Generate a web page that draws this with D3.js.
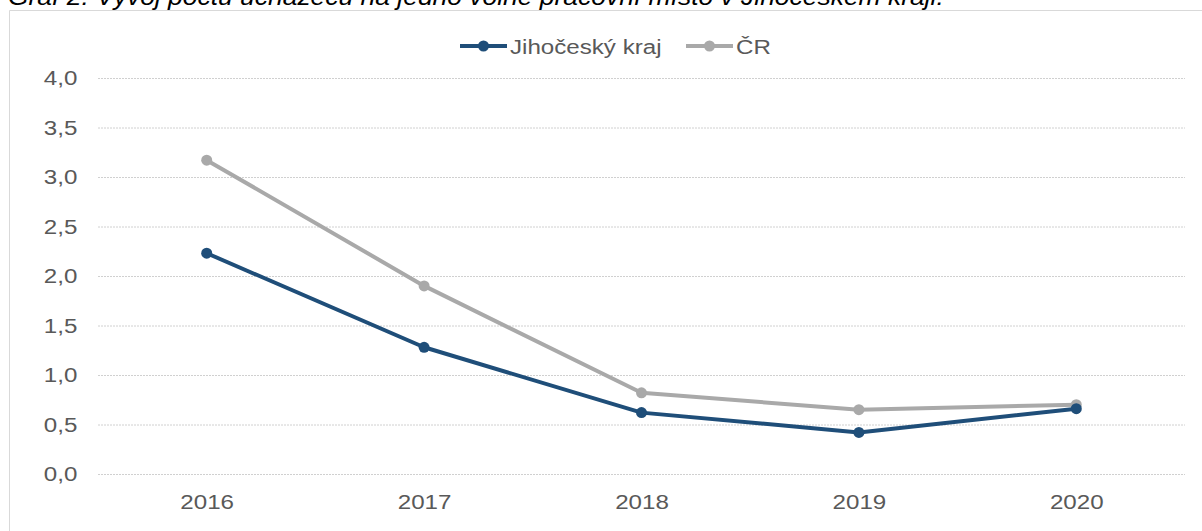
<!DOCTYPE html>
<html>
<head>
<meta charset="utf-8">
<script src="https://cdn.jsdelivr.net/npm/d3@7"></script>
<style>
  body { margin: 0; background: #fff; }
  svg { display: block; font-family: "Liberation Sans", Arial, sans-serif; }
</style>
</head>
<body>
<div class="chart"></div>
<script>
// data
var years = ["2016", "2017", "2018", "2019", "2020"];
var jihocesky = [2.23, 1.28, 0.62, 0.42, 0.66];
var cr = [3.17, 1.90, 0.82, 0.65, 0.70];
var yTicks = [0, 0.5, 1, 1.5, 2, 2.5, 3, 3.5, 4];
var seriesNames = ["Jihočeský kraj", "ČR"];
var seriesColors = ["#1f4e79", "#a9a9a9"];

var svgWidth = 1202;
var svgHeight = 531;

// the source image is a bit stretched sideways, so text gets stretched too
var stretch = "scale(1.15,1)";
var fontSize = 21;

var margin = { top: 78, right: 17, bottom: 57, left: 98 };
var width = svgWidth - margin.left - margin.right;
var height = svgHeight - margin.top - margin.bottom;

var svg = d3.select(".chart")
  .append("svg")
  .attr("width", svgWidth)
  .attr("height", svgHeight);

// title, cut off at the top like in the source
svg.append("text")
  .attr("transform", "translate(8,5) " + stretch)
  .attr("font-size", 23)
  .attr("font-style", "italic")
  .attr("fill", "#000")
  .text("Graf 2: Vývoj počtu uchazečů na jedno volné pracovní místo v Jihočeském kraji.");

// frame
svg.append("path")
  .attr("d", "M9.5," + svgHeight + "V10.5H" + svgWidth)
  .attr("fill", "none")
  .attr("stroke", "#d9d9d9")
  .attr("stroke-width", 1);

var chart = svg.append("g")
  .attr("transform", "translate(" + margin.left + "," + margin.top + ")");

var x = d3.scalePoint().domain(years).range([0, width]).padding(0.5);
var y = d3.scaleLinear().domain([0, 4]).range([height, 0]);

// gridlines + y labels
var yAxis = d3.axisLeft(y)
  .tickValues(yTicks)
  .tickSize(-width)
  .tickPadding(18)
  .tickFormat(function(d) { return d3.format(".1f")(d).replace(".", ","); });

var gy = chart.append("g").call(yAxis);
gy.select(".domain").remove();
gy.selectAll(".tick line")
  .attr("stroke", "#d0d0d0")
  .attr("stroke-dasharray", "2,1");
gy.selectAll(".tick text")
  .attr("fill", "#595959")
  .attr("font-size", fontSize)
  .attr("font-family", "Liberation Sans, Arial, sans-serif")
  .attr("transform", stretch);

var xAxis = d3.axisBottom(x).tickSize(0).tickPadding(20);
var gx = chart.append("g")
  .attr("transform", "translate(0," + height + ")")
  .call(xAxis);
gx.select(".domain").remove();
gx.selectAll(".tick text")
  .attr("fill", "#595959")
  .attr("font-size", fontSize)
  .attr("font-family", "Liberation Sans, Arial, sans-serif")
  .attr("transform", stretch);

var line = d3.line()
  .x(function(d, i) { return x(years[i]); })
  .y(function(d) { return y(d); });

// draw CR first so the regional line sits on top
[cr, jihocesky].forEach(function(vals, k) {
  var color = k === 0 ? seriesColors[1] : seriesColors[0];
  chart.append("path")
    .datum(vals)
    .attr("d", line)
    .attr("fill", "none")
    .attr("stroke", color)
    .attr("stroke-width", 4)
    .attr("stroke-linejoin", "round");
  chart.selectAll(null)
    .data(vals)
    .enter().append("circle")
    .attr("cx", function(d, i) { return x(years[i]); })
    .attr("cy", function(d) { return y(d); })
    .attr("r", 5.5)
    .attr("fill", color);
});

// legend
var legendItems = [
  { name: seriesNames[0], color: seriesColors[0], x: 460 },
  { name: seriesNames[1], color: seriesColors[1], x: 686 }
];
var legend = svg.append("g").attr("transform", "translate(0,46)");
legendItems.forEach(function(it) {
  legend.append("line")
    .attr("x1", it.x).attr("x2", it.x + 47)
    .attr("y1", 0).attr("y2", 0)
    .attr("stroke", it.color)
    .attr("stroke-width", 4);
  legend.append("circle")
    .attr("cx", it.x + 23.5).attr("cy", 0)
    .attr("r", 5.5)
    .attr("fill", it.color);
  legend.append("text")
    .attr("transform", "translate(" + (it.x + 50) + ",7.5) " + stretch)
    .attr("font-size", fontSize)
    .attr("fill", "#595959")
    .text(it.name);
});
</script>
</body>
</html>
